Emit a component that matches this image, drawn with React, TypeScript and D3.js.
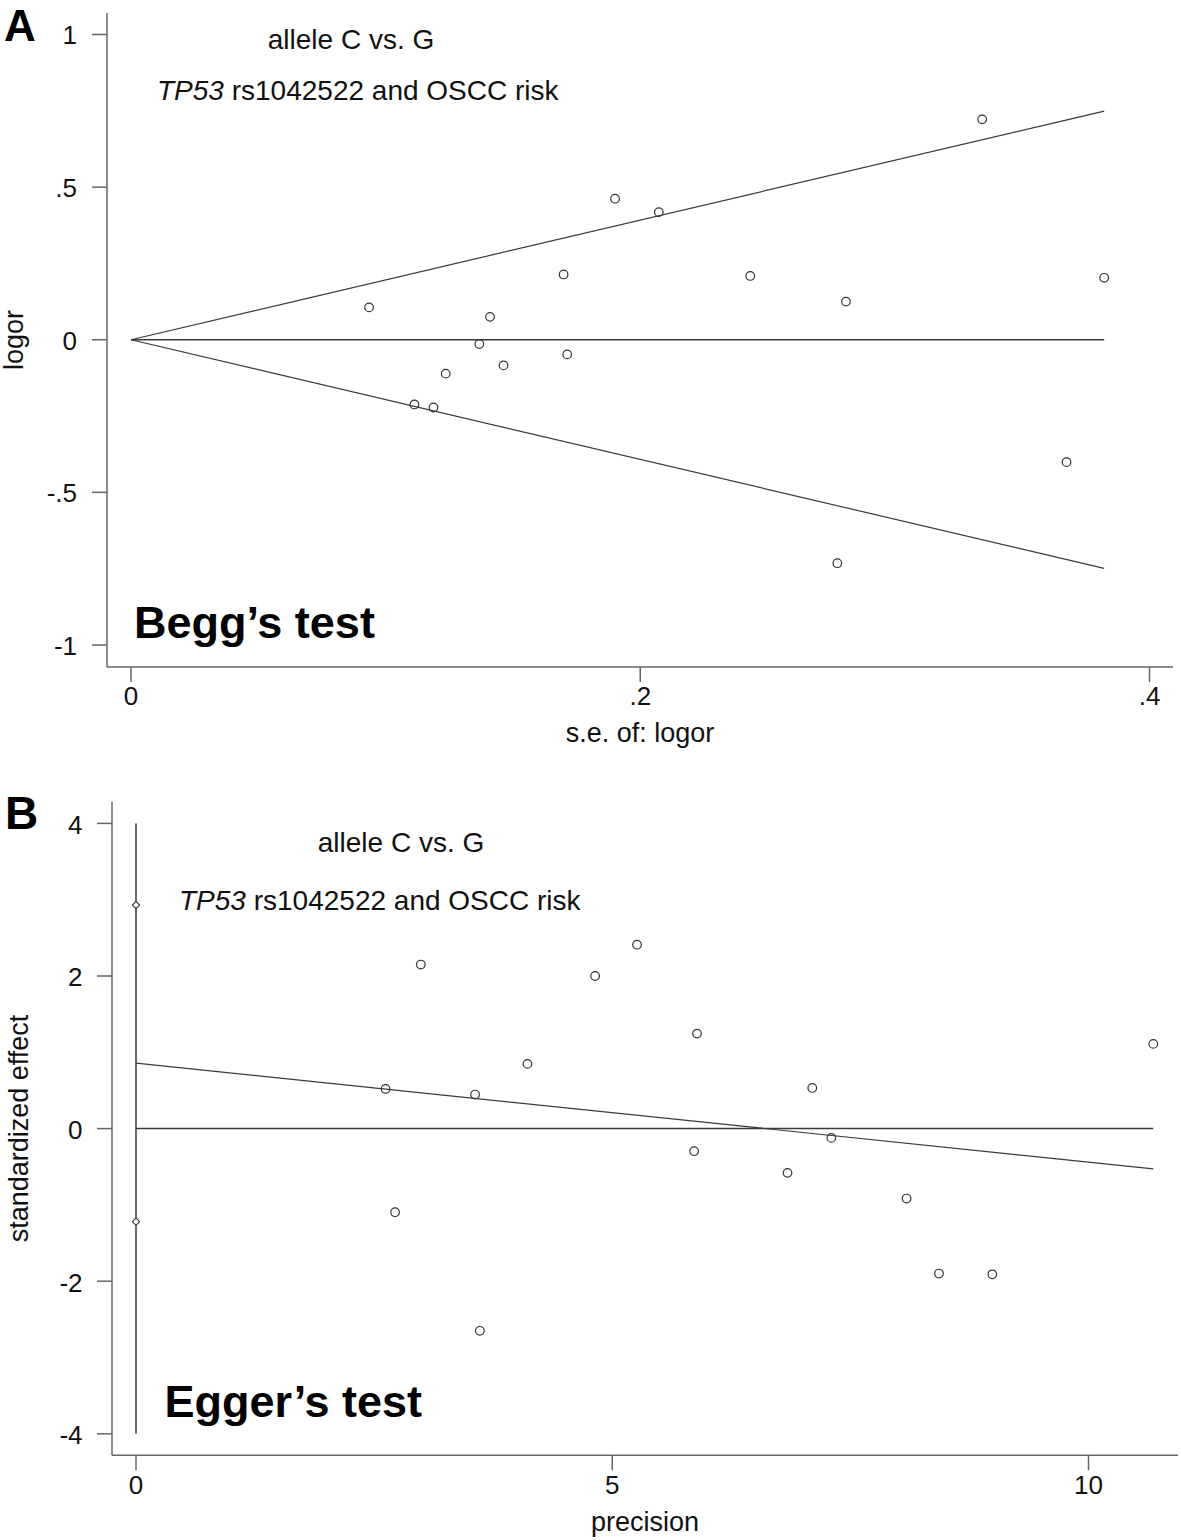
import React from "react";
import * as d3 from "d3";

// ---------- Panel A (Begg's funnel) data ----------
const seA = [0.0935, 0.1113, 0.1188, 0.1236, 0.1368, 0.141, 0.1463, 0.1699, 0.1713, 0.1901, 0.2073, 0.2432, 0.2774, 0.2808, 0.3343, 0.3674, 0.3822];
const logorA = [0.106, -0.212, -0.222, -0.111, -0.014, 0.075, -0.084, 0.214, -0.048, 0.462, 0.418, 0.209, -0.732, 0.125, 0.722, -0.401, 0.203];
const yTicksA = [1, 0.5, 0, -0.5, -1];
const yTickLabelsA = ["1", ".5", "0", "-.5", "-1"];
const xTicksA = [0, 0.2, 0.4];
const xTickLabelsA = ["0", ".2", ".4"];

// ---------- Panel B (Egger's) data ----------
const precisionB = [2.99, 4.82, 2.62, 3.56, 4.11, 5.26, 5.89, 7.10, 7.30, 5.86, 10.68, 2.72, 3.61, 6.84, 8.09, 8.43, 8.99];
const stdEffectB = [2.15, 2.0, 0.52, 0.446, 0.848, 2.41, 1.245, 0.533, -0.122, -0.296, 1.11, -1.096, -2.65, -0.58, -0.917, -1.90, -1.91];
const eggerIntercept = 0.857;
const eggerSlope = -0.1297;
const eggerCI = [2.93, -1.22];
const yTicksB = [4, 2, 0, -2, -4];
const yTickLabelsB = ["4", "2", "0", "-2", "-4"];
const xTicksB = [0, 5, 10];
const xTickLabelsB = ["0", "5", "10"];

const FONT = "'Liberation Sans', Arial, Helvetica, sans-serif";
const AXIS_COLOR = "#666";
const LINE_COLOR = "#3a3a3a";

function diamondPath(r: number) {
  const p = d3.path();
  p.moveTo(0, -r);
  p.lineTo(r, 0);
  p.lineTo(0, r);
  p.lineTo(-r, 0);
  p.closePath();
  return p.toString();
}

export default function App() {
  const xA = d3.scaleLinear().domain([0, 0.4]).range([131, 1149.5]);
  const yA = d3.scaleLinear().domain([-1, 1]).range([645, 34.5]);
  const seMax = d3.max(seA) as number;
  const line = d3.line<[number, number]>();
  const upper = line([[xA(0), yA(0)], [xA(seMax), yA(1.96 * seMax)]]);
  const lower = line([[xA(0), yA(0)], [xA(seMax), yA(-1.96 * seMax)]]);
  const zeroA = line([[xA(0), yA(0)], [xA(seMax), yA(0)]]);

  const xB = d3.scaleLinear().domain([0, 10]).range([136, 1088.5]);
  const yB = d3.scaleLinear().domain([-4, 4]).range([1433.8, 823.4]);
  const pMax = d3.max(precisionB) as number;
  const reg = line([[xB(0), yB(eggerIntercept)], [xB(pMax), yB(eggerIntercept + eggerSlope * pMax)]]);
  const zeroB = line([[xB(0), yB(0)], [xB(pMax), yB(0)]]);
  const vert = line([[xB(0), yB(4)], [xB(0), yB(-4)]]);

  const axA = { x0: 107, y0: 667, top: 13, right: 1173 };
  const axB = { x0: 112, y0: 1455.3, top: 801.7, right: 1178 };

  const tickFont = 26;
  const titleFont = 27;
  const noteFont = 28;

  return (
    <svg
      width={1181}
      height={1540}
      viewBox="0 0 1181 1540"
      style={{ position: "absolute", left: 0, top: 0, display: "block", background: "#fff" }}
      fontFamily={FONT}
    >
      <rect x={0} y={0} width={1181} height={1540} fill="#fff" />

      {/* ================= Panel A ================= */}
      <text x={4} y={40.5} fontSize={44} fontWeight="bold" fill="#000">A</text>
      <line x1={axA.x0} y1={axA.top} x2={axA.x0} y2={axA.y0} stroke={AXIS_COLOR} strokeWidth={1.5} />
      <line x1={axA.x0} y1={axA.y0} x2={axA.right} y2={axA.y0} stroke={AXIS_COLOR} strokeWidth={1.5} />
      {yTicksA.map((t, i) => (
        <g key={"ya" + i}>
          <line x1={axA.x0 - 15} x2={axA.x0} y1={yA(t)} y2={yA(t)} stroke={AXIS_COLOR} strokeWidth={1.5} />
          <text x={77} y={yA(t)} dy="0.38em" textAnchor="end" fontSize={tickFont} fill="#111">{yTickLabelsA[i]}</text>
        </g>
      ))}
      {xTicksA.map((t, i) => (
        <g key={"xa" + i}>
          <line x1={xA(t)} x2={xA(t)} y1={axA.y0} y2={axA.y0 + 15} stroke={AXIS_COLOR} strokeWidth={1.5} />
          <text x={xA(t)} y={705} textAnchor="middle" fontSize={tickFont} fill="#111">{xTickLabelsA[i]}</text>
        </g>
      ))}
      <text x={(axA.x0 + axA.right) / 2} y={742} textAnchor="middle" fontSize={titleFont} fill="#111">s.e. of: logor</text>
      <text transform={`translate(23, ${(axA.top + axA.y0) / 2}) rotate(-90)`} textAnchor="middle" fontSize={titleFont} fill="#111">logor</text>

      <path d={upper || ""} stroke={LINE_COLOR} strokeWidth={1.2} fill="none" />
      <path d={lower || ""} stroke={LINE_COLOR} strokeWidth={1.2} fill="none" />
      <path d={zeroA || ""} stroke={LINE_COLOR} strokeWidth={1.5} fill="none" />

      {seA.map((s, i) => (
        <circle key={"pa" + i} cx={xA(s)} cy={yA(logorA[i])} r={4.3} fill="none" stroke="#333" strokeWidth={1.2} />
      ))}

      <text x={351} y={48.5} textAnchor="middle" fontSize={noteFont} fill="#111">allele C vs. G</text>
      <text x={157} y={100} fontSize={noteFont} fill="#111">
        <tspan fontStyle="italic">TP53</tspan> rs1042522 and OSCC risk
      </text>
      <text x={134} y={638} fontSize={45} fontWeight="bold" fill="#000">Begg’s test</text>

      {/* ================= Panel B ================= */}
      <text x={5} y={829} fontSize={46} fontWeight="bold" fill="#000">B</text>
      <line x1={axB.x0} y1={axB.top} x2={axB.x0} y2={axB.y0} stroke={AXIS_COLOR} strokeWidth={1.5} />
      <line x1={axB.x0} y1={axB.y0} x2={axB.right} y2={axB.y0} stroke={AXIS_COLOR} strokeWidth={1.5} />
      {yTicksB.map((t, i) => (
        <g key={"yb" + i}>
          <line x1={axB.x0 - 15} x2={axB.x0} y1={yB(t)} y2={yB(t)} stroke={AXIS_COLOR} strokeWidth={1.5} />
          <text x={82.5} y={yB(t)} dy="0.4em" textAnchor="end" fontSize={tickFont} fill="#111">{yTickLabelsB[i]}</text>
        </g>
      ))}
      {xTicksB.map((t, i) => (
        <g key={"xb" + i}>
          <line x1={xB(t)} x2={xB(t)} y1={axB.y0} y2={axB.y0 + 15} stroke={AXIS_COLOR} strokeWidth={1.5} />
          <text x={xB(t)} y={1494} textAnchor="middle" fontSize={tickFont} fill="#111">{xTickLabelsB[i]}</text>
        </g>
      ))}
      <text x={(axB.x0 + axB.right) / 2} y={1531} textAnchor="middle" fontSize={titleFont} fill="#111">precision</text>
      <text transform={`translate(28, ${(axB.top + axB.y0) / 2}) rotate(-90)`} textAnchor="middle" fontSize={titleFont} fill="#111">standardized effect</text>

      <path d={vert || ""} stroke={LINE_COLOR} strokeWidth={1.5} fill="none" />
      <path d={zeroB || ""} stroke={LINE_COLOR} strokeWidth={1.5} fill="none" />
      <path d={reg || ""} stroke={LINE_COLOR} strokeWidth={1.2} fill="none" />
      {eggerCI.map((v, i) => (
        <path key={"ci" + i} d={diamondPath(3.6)} transform={`translate(${xB(0)}, ${yB(v)})`} fill="#fff" stroke="#333" strokeWidth={1.1} />
      ))}

      {precisionB.map((p, i) => (
        <circle key={"pb" + i} cx={xB(p)} cy={yB(stdEffectB[i])} r={4.3} fill="none" stroke="#333" strokeWidth={1.2} />
      ))}

      <text x={401} y={852} textAnchor="middle" fontSize={noteFont} fill="#111">allele C vs. G</text>
      <text x={179} y={910} fontSize={noteFont} fill="#111">
        <tspan fontStyle="italic">TP53</tspan> rs1042522 and OSCC risk
      </text>
      <text x={164.5} y={1417} fontSize={45} fontWeight="bold" fill="#000">Egger’s test</text>
    </svg>
  );
}
